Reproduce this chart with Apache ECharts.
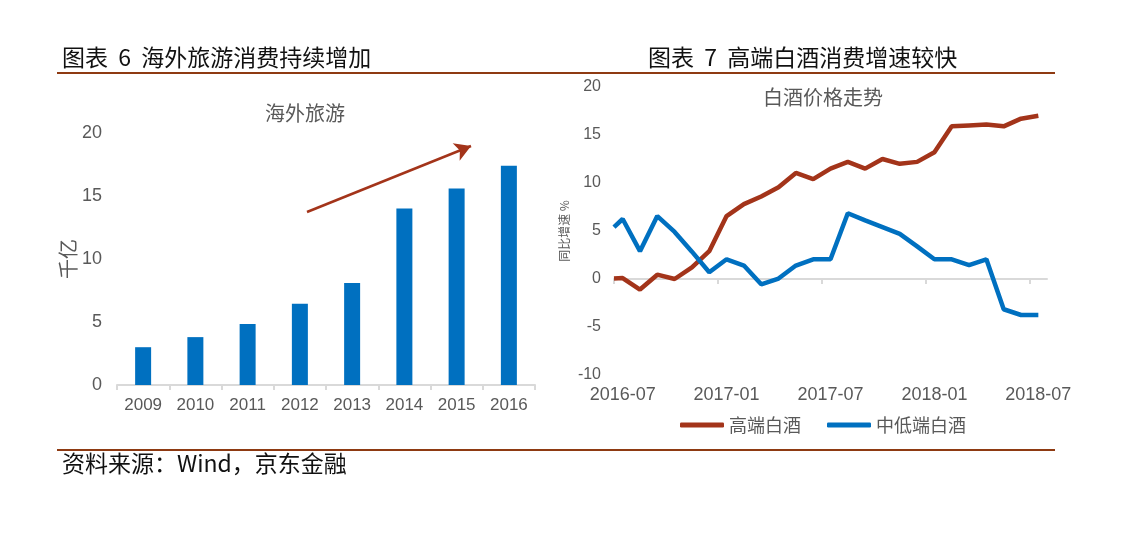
<!DOCTYPE html>
<html>
<head>
<meta charset="utf-8">
<script src="https://cdn.jsdelivr.net/npm/echarts@6/dist/echarts.min.js"></script>
<style>
html,body{margin:0;padding:0;background:#fff;}
#c{width:1125px;height:536px;}
</style>
</head>
<body>
<div id="c"></div>
<script>
// ---- Left chart data ----
const tourismYears = ['2009','2010','2011','2012','2013','2014','2015','2016'];
const tourismValues = [3.0, 3.8, 4.85, 6.45, 8.1, 14.0, 15.6, 17.4];

// ---- Right chart data ----
const wineDates = ['2016-07-01','2016-07-16','2016-08-16','2016-09-16','2016-10-16','2016-11-16','2016-12-16',
  '2017-01-16','2017-02-16','2017-03-16','2017-04-16','2017-05-16','2017-06-16','2017-07-16','2017-08-16',
  '2017-09-16','2017-10-16','2017-11-16','2017-12-16','2018-01-16','2018-02-16','2018-03-16','2018-04-16',
  '2018-05-16','2018-06-16','2018-07-16'];
const highEnd = [0.05, 0.1, -1.1, 0.45, 0, 1.2, 2.9, 6.55, 7.8, 8.6, 9.55, 11.05, 10.4, 11.5, 12.2, 11.5, 12.5, 12.0, 12.2, 13.2, 15.9, 16.0, 16.1, 15.9, 16.7, 17.0];
const midLow = [5.4, 6.25, 2.9, 6.55, 4.9, 2.85, 0.7, 2.05, 1.4, -0.55, 0.05, 1.4, 2.05, 2.05, 6.85, 6.1, 5.4, 4.7, 3.4, 2.05, 2.05, 1.45, 2.05, -3.15, -3.75, -3.75];
const wineTickLabels = ['2016-07','2017-01','2017-07','2018-01','2018-07'];
const wineAxisEnd = '2018-08';
const seriesNames = ['高端白酒','中低端白酒'];

function monthPos(s){
  const p = s.split('-').map(Number);
  const d = p[2] || 1;
  return (p[0]-2016)*12 + (p[1]-7) + (d-1)/30;
}
const tickPos = wineTickLabels.map(monthPos);
const labelPos = tickPos.map(v => v + 0.5);

const gray = '#595959';
const axisGray = '#d9d9d9';
const red = '#A3341A';
const blue = '#0070C0';
const brown = '#8E3A12';
const cjk = '"Noto Sans CJK SC", "Liberation Sans", sans-serif';
const num = '"Liberation Sans", "Noto Sans CJK SC", sans-serif';

const chart = echarts.init(document.getElementById('c'), null, {renderer:'canvas'});
chart.setOption({
  animation: false,
  backgroundColor: '#fff',
  graphic: [
    {type:'text', x:62, y:57, style:{text:'图表  6  海外旅游消费持续增加', font:'23px '+cjk, fill:'#111', verticalAlign:'middle'}},
    {type:'text', x:648, y:57, style:{text:'图表  7  高端白酒消费增速较快', font:'23px '+cjk, fill:'#111', verticalAlign:'middle'}},
    {type:'line', shape:{x1:57,y1:73,x2:1055,y2:73}, style:{stroke:brown, lineWidth:2}},
    {type:'line', shape:{x1:57,y1:450,x2:1055,y2:450}, style:{stroke:brown, lineWidth:2}},
    {type:'text', x:62, y:463, style:{text:'资料来源：Wind，京东金融', font:'23px '+cjk, fill:'#111', verticalAlign:'middle'}},
    {type:'text', x:305, y:113, style:{text:'海外旅游', font:'20px '+cjk, fill:gray, align:'center', verticalAlign:'middle'}},
    {type:'text', x:823, y:97, style:{text:'白酒价格走势', font:'20px '+cjk, fill:gray, align:'center', verticalAlign:'middle'}}
  ],
  grid: [
    {left:117, right:590, top:133, bottom:151, containLabel:false},
    {left:614, right:78, top:87, bottom:161, containLabel:false}
  ],
  legend: {
    data: seriesNames,
    left: 675, top: 411,
    icon: 'roundRect',
    itemWidth: 44, itemHeight: 5, itemGap: 26,
    textStyle: {color: gray, fontSize: 18, fontFamily: cjk}
  },
  xAxis: [
    {
      gridIndex:0, type:'category', data: tourismYears,
      axisLine:{show:true, lineStyle:{color:axisGray, width:2}},
      axisTick:{show:true, length:5, lineStyle:{color:axisGray, width:2}},
      axisLabel:{color:gray, fontSize:17, fontFamily:num, margin:12},
      splitLine:{show:false}
    },
    {
      gridIndex:1, type:'value', min:0, max:monthPos(wineAxisEnd), position:'bottom',
      axisLine:{show:false, onZero:false},
      axisTick:{show:false},
      axisLabel:{show:true, color:gray, fontSize:18, fontFamily:num, margin:11,
        customValues: labelPos,
        formatter: function(v){
          for (let i=0;i<labelPos.length;i++){ if (Math.abs(labelPos[i]-v)<1e-6) return wineTickLabels[i]; }
          return '';
        }},
      splitLine:{show:false}
    },
    {
      gridIndex:1, type:'value', min:0, max:monthPos(wineAxisEnd), position:'bottom',
      axisLine:{show:true, onZero:true, lineStyle:{color:axisGray, width:2}},
      axisTick:{show:true, length:5, customValues: tickPos, lineStyle:{color:axisGray, width:2}},
      axisLabel:{show:false},
      splitLine:{show:false}
    }
  ],
  yAxis: [
    {
      gridIndex:0, type:'value', min:0, max:20, interval:5,
      name:'千亿', nameLocation:'middle', nameGap:36, nameRotate:90,
      nameTextStyle:{color:gray, fontSize:20, fontFamily:cjk},
      axisLine:{show:false}, axisTick:{show:false}, splitLine:{show:false},
      axisLabel:{color:gray, fontSize:18, fontFamily:num, margin:15}
    },
    {
      gridIndex:1, type:'value', min:-10, max:20, interval:5,
      name:'同比增速 %', nameLocation:'middle', nameGap:44, nameRotate:90,
      nameTextStyle:{color:gray, fontSize:12, fontFamily:cjk},
      axisLine:{show:false}, axisTick:{show:false}, splitLine:{show:false},
      axisLabel:{color:gray, fontSize:16, fontFamily:num, margin:13}
    }
  ],
  series: [
    {
      type:'bar', xAxisIndex:0, yAxisIndex:0, data: tourismValues,
      barWidth:16, itemStyle:{color:blue},
      markLine:{
        silent:true, symbol:['none','arrow'], symbolSize:[14,16],
        label:{show:false},
        lineStyle:{color:red, width:2.5, type:'solid'},
        data:[[{x:307,y:212},{x:471,y:146}]]
      }
    },
    {
      name: seriesNames[0], type:'line', xAxisIndex:2, yAxisIndex:1,
      data: wineDates.map((d,i)=>[monthPos(d), highEnd[i]]),
      symbol:'none', lineStyle:{color:red, width:4.5}, itemStyle:{color:red}
    },
    {
      name: seriesNames[1], type:'line', xAxisIndex:2, yAxisIndex:1,
      data: wineDates.map((d,i)=>[monthPos(d), midLow[i]]),
      symbol:'none', lineStyle:{color:blue, width:4.5}, itemStyle:{color:blue}
    }
  ]
});
</script>
</body>
</html>
